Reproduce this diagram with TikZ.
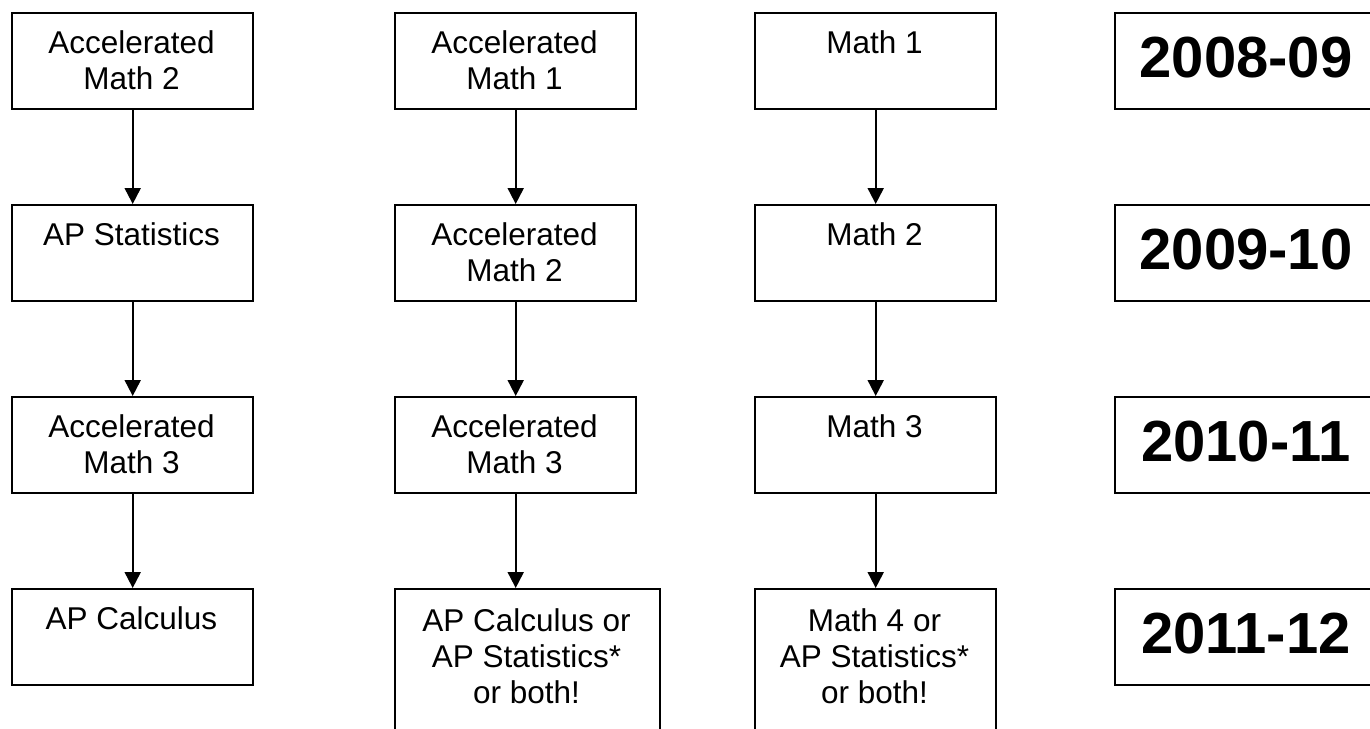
\documentclass[tikz,border=0pt]{standalone}
\usepackage{fontspec}
\setmainfont{Liberation Sans}
\usetikzlibrary{arrows.meta}
\begin{document}
\begin{tikzpicture}[x=1pt,y=-1pt,
  box/.style={draw=black, line width=2.4pt, fill=white, inner sep=0pt, anchor=north west, minimum height=96pt},
  cbox/.style={box, minimum width=241pt},
  wbox/.style={box, minimum width=265pt, minimum height=160pt},
  ybox/.style={box, minimum width=262pt},
  lbl/.style={anchor=base, align=center, inner sep=0pt, font=\fontsize{31.5}{36}\selectfont},
  yr/.style={anchor=base, inner sep=0pt, font=\fontsize{58}{60}\selectfont\bfseries},
  arr/.style={line width=2pt, -{Triangle[length=16pt,width=16pt]}}]
\useasboundingbox (0,0) rectangle (1370,728);
\clip (0,0) rectangle (1370,728);
\fill[white] (0,0) rectangle (1370,728);
% column 1
\node[cbox] (a1) at (11,12) {};
\node[cbox] (a2) at (11,204) {};
\node[cbox] (a3) at (11,396) {};
\node[cbox] (a4) at (11,588) {};
% column 2
\node[cbox] (b1) at (394,12) {};
\node[cbox] (b2) at (394,204) {};
\node[cbox] (b3) at (394,396) {};
\node[wbox] (b4) at (394,588) {};
% column 3
\node[cbox] (c1) at (754,12) {};
\node[cbox] (c2) at (754,204) {};
\node[cbox] (c3) at (754,396) {};
\node[cbox, minimum height=160pt] (c4) at (754,588) {};
% years
\node[ybox] (y1) at (1114,12) {};
\node[ybox] (y2) at (1114,204) {};
\node[ybox] (y3) at (1114,396) {};
\node[ybox] (y4) at (1114,588) {};
% texts (base anchor = baseline of the last line)
\node[lbl] (ta1) at (131.5,89.3) {Accelerated\\Math 2};
\node[lbl] (ta2) at (131.5,245.3) {AP Statistics};
\node[lbl] (ta3) at (131.5,473.3) {Accelerated\\Math 3};
\node[lbl] (ta4) at (131.5,629.3) {AP Calculus};
\node[lbl] (tb1) at (514.5,89.3) {Accelerated\\Math 1};
\node[lbl] (tb2) at (514.5,281.3) {Accelerated\\Math 2};
\node[lbl] (tb3) at (514.5,473.3) {Accelerated\\Math 3};
\node[lbl] (tb4) at (526.5,703) {AP Calculus or\\AP Statistics*\\or both!};
\node[lbl] (tc1) at (874.5,53.3) {Math 1};
\node[lbl] (tc2) at (874.5,245.3) {Math 2};
\node[lbl] (tc3) at (874.5,437.3) {Math 3};
\node[lbl] (tc4) at (874.5,703) {Math 4 or\\AP Statistics*\\or both!};
\node[yr] (ty1) at (1246,77) {2008-09};
\node[yr] (ty2) at (1246,269) {2009-10};
\node[yr] (ty3) at (1246,461) {2010-11};
\node[yr] (ty4) at (1246,653) {2011-12};
% arrows
\draw[arr] (a1.south) -- (a2.north);
\draw[arr] (a2.south) -- (a3.north);
\draw[arr] (a3.south) -- (a4.north);
\draw[arr] (b1.south) -- (b2.north);
\draw[arr] (b2.south) -- (b3.north);
\draw[arr] (b3.south) -- (b3.south |- b4.north);
\draw[arr] (c1.south) -- (c2.north);
\draw[arr] (c2.south) -- (c3.north);
\draw[arr] (c3.south) -- (c4.north);
\end{tikzpicture}
\end{document}
